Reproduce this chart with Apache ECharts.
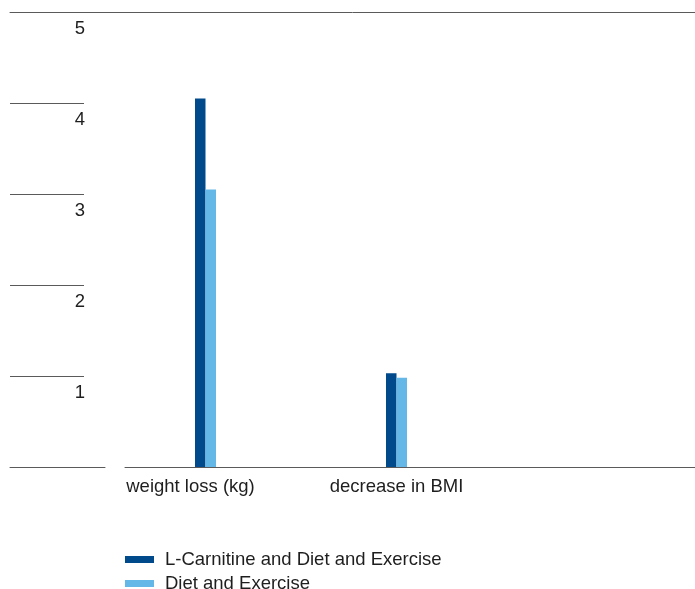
<!DOCTYPE html>
<html>
<head>
<meta charset="utf-8">
<script src="https://cdn.jsdelivr.net/npm/echarts@6/dist/echarts.min.js"></script>
<style>
html,body{margin:0;padding:0;background:#fff;}
#chart{width:695px;height:589px;}
</style>
</head>
<body>
<div id="chart"></div>
<script>
const categories = ['weight loss (kg)', 'decrease in BMI'];
const seriesNames = ['L-Carnitine and Diet and Exercise', 'Diet and Exercise'];
const lcarnitineValues = [4.05, 1.03];
const dietExerciseValues = [3.05, 0.98];
const yMin = 0, yMax = 5, yStep = 1;

const FONT = '"Liberation Sans", Arial, Helvetica, sans-serif';
const TXT = '#1e1e1e';
const LINE = '#5a5a5a';
const DARK = '#004a8c';
const LIGHT = '#64b8e7';

const chart = echarts.init(document.getElementById('chart'), null, {renderer: 'canvas'});

const hiddenY = (g) => ({type: 'value', gridIndex: g, min: yMin, max: yMax, interval: yStep, show: false});
const lineX = (g, pos) => ({
  type: 'value', gridIndex: g, min: 0, max: 1, position: pos,
  axisLine: {show: true, onZero: false, lineStyle: {color: LINE, width: 1}},
  axisTick: {show: false}, axisLabel: {show: false}, splitLine: {show: false}
});

const option = {
  animation: false,
  textStyle: {fontFamily: FONT},
  grid: [
    {left: 110, width: 382, top: 12, height: 455},
    {left: 10, right: 0, top: 12, height: 455},
    {left: 10, width: 74, top: 12, height: 455},
    {left: 10, width: 95, top: 12, height: 455},
    {left: 125, right: 0, top: 12, height: 455}
  ],
  xAxis: [
    {
      type: 'category', gridIndex: 0,
      data: categories.map((c, i) => i === 0 ? {value: c, textStyle: {padding: [0, 30, 0, 0]}} : c),
      axisLine: {show: false}, axisTick: {show: false},
      axisLabel: {fontSize: 18.5, color: TXT, margin: 10, fontFamily: FONT}
    },
    lineX(1, 'top'),
    {type: 'value', gridIndex: 2, min: 0, max: 1, show: false},
    lineX(3, 'bottom'),
    lineX(4, 'bottom')
  ],
  yAxis: [
    hiddenY(0),
    hiddenY(1),
    {
      type: 'value', gridIndex: 2, min: yMin, max: yMax, interval: yStep, position: 'right',
      axisLine: {show: false}, axisTick: {show: false},
      splitLine: {show: true, lineStyle: {color: LINE, width: 1}},
      axisLabel: {
        inside: true, margin: -1, fontSize: 18.5, color: TXT, fontFamily: FONT,
        verticalAlign: 'top', padding: [7, 0, 0, 0],
        formatter: v => (v === 0 ? '' : String(v))
      }
    },
    hiddenY(3),
    hiddenY(4)
  ],
  legend: {
    orient: 'vertical', left: 125, top: 550, height: 120, padding: 0,
    icon: 'rect', itemWidth: 29, itemHeight: 7, itemGap: 5,
    selectedMode: false,
    textStyle: {fontSize: 18.5, color: TXT, fontFamily: FONT, padding: [0, 0, 0, 6]},
    data: seriesNames
  },
  series: [
    {
      name: seriesNames[0], type: 'bar', xAxisIndex: 0, yAxisIndex: 0,
      data: lcarnitineValues, barWidth: 10.5, barGap: '0%',
      itemStyle: {color: DARK}
    },
    {
      name: seriesNames[1], type: 'bar', xAxisIndex: 0, yAxisIndex: 0,
      data: dietExerciseValues, barWidth: 10.5, barGap: '0%',
      itemStyle: {color: LIGHT}
    }
  ]
};
chart.setOption(option);
</script>
</body>
</html>
